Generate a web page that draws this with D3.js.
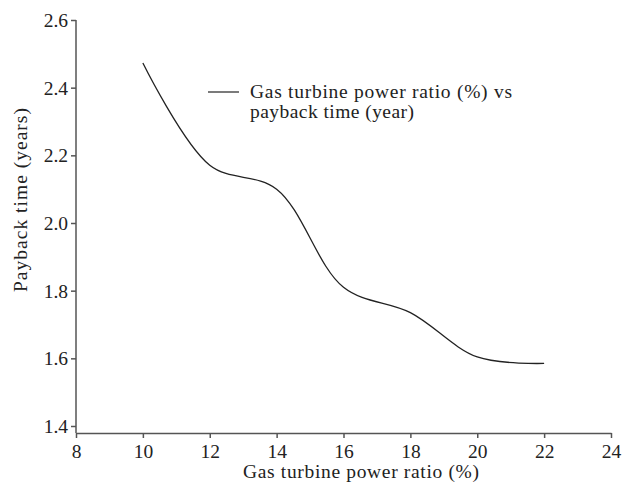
<!DOCTYPE html>
<html><head><meta charset="utf-8">
<script src="https://cdn.jsdelivr.net/npm/d3@7"></script>
<style>body{margin:0;background:#fff}text{font-family:"Liberation Serif",serif;fill:#222}</style>
</head><body>
<svg id="c" width="622" height="489"></svg>
<script>
const powerRatio = [10, 12, 14, 16, 18, 20, 22];
const payback = [2.473, 2.171, 2.10, 1.81, 1.735, 1.604, 1.585];
const xTicks = [8, 10, 12, 14, 16, 18, 20, 22, 24];
const yTicks = [1.4, 1.6, 1.8, 2.0, 2.2, 2.4, 2.6];
const legendLabel = ["Gas turbine power ratio (%) vs", "payback time (year)"];

const svg = d3.select("#c");
const x = d3.scaleLinear().domain([8, 24]).range([76, 611]);
const y = d3.scaleLinear().domain([1.4, 2.6]).range([426, 20]);
const axisY = 433;

const gx = svg.append("g").attr("transform", `translate(0,${axisY})`)
  .call(d3.axisBottom(x).tickValues(xTicks).tickFormat(d3.format("d")).tickSize(5).tickSizeOuter(0));
const gy = svg.append("g").attr("transform", `translate(76,0)`)
  .call(d3.axisLeft(y).tickValues(yTicks).tickFormat(d3.format(".1f")).tickSize(5).tickSizeOuter(0));
gy.select(".domain").attr("d", `M0,${y(2.6)}V${axisY}`);
[gx, gy].forEach(g => {
  g.selectAll(".domain, line").attr("stroke", "#555").attr("stroke-width", 1.5);
  g.selectAll("text").style("font-size", "19.5px").attr("fill", "#222");
});
gx.selectAll("text").attr("dy", "0.88em");
gy.selectAll("text").attr("dy", "0.33em");

const line = d3.line().x((d, i) => x(powerRatio[i])).y(d => y(d)).curve(d3.curveCatmullRom.alpha(0.5));
svg.append("path").datum(payback).attr("d", line).attr("fill", "none").attr("stroke", "#222").attr("stroke-width", 1.3);

svg.append("line").attr("x1", 208).attr("x2", 239).attr("y1", 92).attr("y2", 92).attr("stroke", "#222").attr("stroke-width", 1.2);
svg.append("text").attr("x", 250).attr("y", 98).style("font-size", "19.5px").attr("textLength", 262).text(legendLabel[0]);
svg.append("text").attr("x", 250).attr("y", 118).style("font-size", "19.5px").attr("textLength", 164).text(legendLabel[1]);

svg.append("text").attr("x", 243).attr("y", 478).style("font-size", "19.5px").attr("textLength", 236).text("Gas turbine power ratio (%)");
svg.append("text").attr("transform", `translate(27,292) rotate(-90)`).style("font-size", "19.5px").attr("textLength", 184).text("Payback time (years)");
</script></body></html>
